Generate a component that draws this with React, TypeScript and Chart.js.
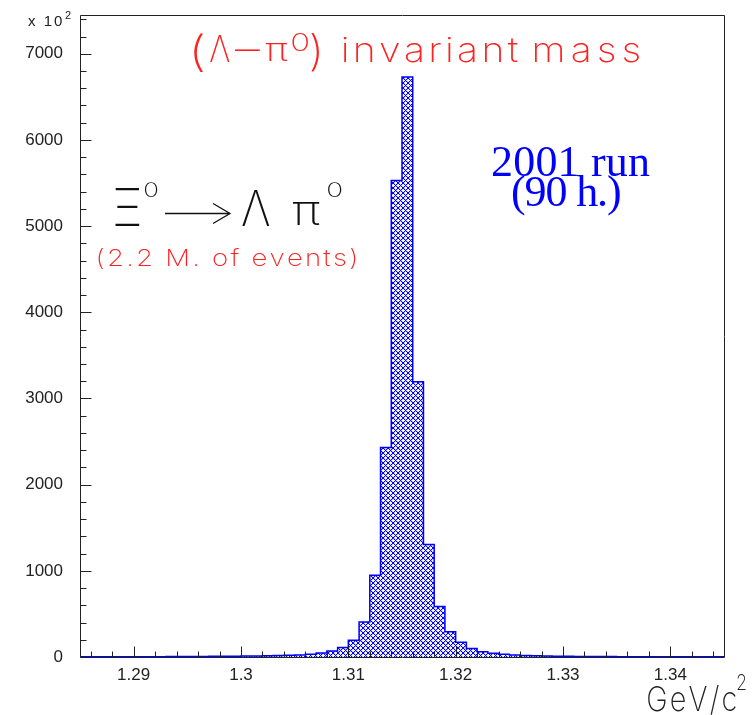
import React, { useEffect, useRef } from 'react';
import { Chart, registerables } from 'chart.js';

Chart.register(...registerables);

// ---- data ----
const binEdges = [
  1.285, 1.286, 1.287, 1.288, 1.289, 1.29, 1.291, 1.292, 1.293, 1.294,
  1.295, 1.296, 1.297, 1.298, 1.299, 1.3, 1.301, 1.302, 1.303, 1.304,
  1.305, 1.306, 1.307, 1.308, 1.309, 1.31, 1.311, 1.312, 1.313, 1.314,
  1.315, 1.316, 1.317, 1.318, 1.319, 1.32, 1.321, 1.322, 1.323, 1.324,
  1.325, 1.326, 1.327, 1.328, 1.329, 1.33, 1.331, 1.332, 1.333, 1.334,
  1.335, 1.336, 1.337, 1.338, 1.339, 1.34, 1.341, 1.342, 1.343, 1.344,
  1.345,
];
const counts = [
  2, 2, 2, 3, 3, 3, 4, 4, 5, 5,
  6, 7, 8, 9, 10, 11, 12, 14, 16, 19,
  24, 31, 45, 70, 110, 195, 405, 950, 2430, 5530,
  6730, 3195, 1305, 585, 292, 170, 100, 62, 43, 32,
  24, 18, 14, 11, 9, 8, 7, 6, 5, 5,
  4, 4, 3, 3, 3, 2, 2, 2, 2, 2,
];
const xTickValues = [1.29, 1.3, 1.31, 1.32, 1.33, 1.34];
const xTickLabels = ['1.29', '1.3', '1.31', '1.32', '1.33', '1.34'];
const yTickValues = [0, 1000, 2000, 3000, 4000, 5000, 6000, 7000];
const yTickLabels = ['0', '1000', '2000', '3000', '4000', '5000', '6000', '7000'];
const X_MIN = 1.285;
const X_MAX = 1.345;
const Y_MIN = 0;
const Y_MAX = 7450;

const THIN = "Inter, Lato, Roboto, 'DejaVu Sans', sans-serif";
const AXIS_FONT = "'Liberation Sans', Arial, sans-serif";
const SERIF = "'Liberation Serif', 'Times New Roman', serif";

// ---- text helpers ----
function drawFit(ctx: CanvasRenderingContext2D, text: string, left: number, right: number, baseline: number, font: string, color: string, sx = 1) {
  ctx.font = font;
  ctx.fillStyle = color;
  ctx.textAlign = 'left';
  ctx.textBaseline = 'alphabetic';
  const m = ctx.measureText(text);
  const ink = (m.actualBoundingBoxLeft + m.actualBoundingBoxRight) * sx;
  const chars = Array.from(text);
  const extra = chars.length > 1 ? (right - left - ink) / (chars.length - 1) : 0;
  let x = left + m.actualBoundingBoxLeft * sx;
  for (const c of chars) {
    ctx.save();
    ctx.translate(x, baseline);
    ctx.scale(sx, 1);
    ctx.fillText(c, 0, 0);
    ctx.restore();
    x += ctx.measureText(c).width * sx + extra;
  }
}

function drawBox(ctx: CanvasRenderingContext2D, text: string, x0: number, x1: number, y0: number, y1: number, font: string, color: string) {
  ctx.font = font;
  ctx.fillStyle = color;
  ctx.textAlign = 'left';
  ctx.textBaseline = 'alphabetic';
  const m = ctx.measureText(text);
  const inkW = m.actualBoundingBoxLeft + m.actualBoundingBoxRight;
  const inkH = m.actualBoundingBoxAscent + m.actualBoundingBoxDescent;
  const sx = (x1 - x0) / (inkW || 1);
  const sy = (y1 - y0) / (inkH || 1);
  ctx.save();
  ctx.translate(x0 + m.actualBoundingBoxLeft * sx, y0 + m.actualBoundingBoxAscent * sy);
  ctx.scale(sx, sy);
  ctx.fillText(text, 0, 0);
  ctx.restore();
}

function drawAt(ctx: CanvasRenderingContext2D, text: string, left: number, baseline: number, font: string, color: string) {
  ctx.font = font;
  ctx.fillStyle = color;
  ctx.textAlign = 'left';
  ctx.textBaseline = 'alphabetic';
  const m = ctx.measureText(text);
  ctx.fillText(text, left + m.actualBoundingBoxLeft, baseline);
}

const framePlugin = {
  id: 'frameAndText',
  afterDraw(chart: any) {
    const { ctx, chartArea: a, scales } = chart;
    const xs = scales.x;
    const ys = scales.y;
    ctx.save();
    // frame
    ctx.strokeStyle = '#222';
    ctx.lineWidth = 1;
    const L = Math.round(a.left) + 0.5;
    const T = Math.round(a.top) + 0.5;
    const R = Math.round(a.right) + 0.5;
    const B = Math.round(a.bottom) + 0.5;
    ctx.beginPath();
    ctx.moveTo(L, T); ctx.lineTo(R, T); ctx.lineTo(R, B); ctx.lineTo(L, B); ctx.closePath();
    ctx.stroke();
    // ticks
    ctx.beginPath();
    for (const v of xTickValues) {
      const px = Math.round(xs.getPixelForValue(v)) + 0.5;
      ctx.moveTo(px, B); ctx.lineTo(px, B - 11);
    }
    for (let k = 643; k <= 672; k++) {
      if (k % 5 === 0) continue;
      const px = Math.round(xs.getPixelForValue(k * 0.002)) + 0.5;
      ctx.moveTo(px, B); ctx.lineTo(px, B - 6);
    }
    for (const v of yTickValues) {
      const py = Math.round(ys.getPixelForValue(v)) + 0.5;
      ctx.moveTo(L, py); ctx.lineTo(L + 11, py);
    }
    for (let k = 1; k <= 37; k++) {
      if (k % 5 === 0) continue;
      const py = Math.round(ys.getPixelForValue(k * 200)) + 0.5;
      ctx.moveTo(L, py); ctx.lineTo(L + 6, py);
    }
    ctx.stroke();

    // exponent label
    drawFit(ctx, 'x 10', 28, 62, 26, `15px ${AXIS_FONT}`, '#222');
    drawAt(ctx, '2', 65, 19, `11px ${AXIS_FONT}`, '#222');

    // title (red)
    const red = '#ff2020';
    const tf = `200 37px ${THIN}`;
    drawBox(ctx, '(', 194, 203, 33, 72, tf, red);
    drawBox(ctx, 'Λ', 210, 230, 35, 62, tf, red);
    drawBox(ctx, '−', 235, 260, 48.5, 50.5, tf, red);
    drawBox(ctx, 'π', 265, 288, 43, 62, tf, red);
    drawBox(ctx, '0', 292, 308, 33, 52, tf, red);
    drawBox(ctx, ')', 311, 320, 33, 72, tf, red);
    drawFit(ctx, 'invariant', 343, 517, 62, `200 34px ${THIN}`, red, 1.15);
    drawFit(ctx, 'mass', 535, 640, 62, `200 34px ${THIN}`, red, 1.15);

    // decay (black)
    const bf = `200 50px ${THIN}`;
    const blk = '#111';
    drawBox(ctx, 'Ξ', 115, 140, 188, 226, bf, blk);
    drawBox(ctx, '0', 145, 158, 183, 198, `200 30px ${THIN}`, blk);
    // arrow
    ctx.strokeStyle = blk;
    ctx.lineWidth = 1.3;
    ctx.beginPath();
    ctx.moveTo(165, 213.5); ctx.lineTo(230, 213.5);
    ctx.moveTo(213, 203.5); ctx.lineTo(230, 213.5); ctx.lineTo(213, 223.5);
    ctx.stroke();
    drawBox(ctx, 'Λ', 242, 270, 190, 226, bf, blk);
    drawBox(ctx, 'π', 292, 320, 202, 226, bf, blk);
    drawBox(ctx, '0', 328, 342, 183, 198, `200 30px ${THIN}`, blk);

    drawFit(ctx, '(2.2 M. of events)', 98, 355, 266, `200 23px ${THIN}`, red, 1.2);

    // run info (blue serif)
    drawFit(ctx, '2001 run', 492, 650, 176, `44px ${SERIF}`, '#0000ff');
    drawFit(ctx, '(90 h.)', 512, 620, 206, `44px ${SERIF}`, '#0000ff');

    // axis title
    drawFit(ctx, 'GeV/c', 648, 733, 711, `200 34px ${THIN}`, '#222', 0.85);
    drawBox(ctx, '2', 737, 746, 674, 690, `200 20px ${THIN}`, '#222');
    ctx.restore();
  },
};

function makePattern(): CanvasPattern | string {
  const n = 5;
  const tile = document.createElement('canvas');
  tile.width = n;
  tile.height = n;
  const t = tile.getContext('2d');
  if (!t) return '#8080ff';
  for (let x = 0; x < n; x++) {
    for (let y = 0; y < n; y++) {
      const d1 = (x + y) % n;
      const d2 = (x - y + n) % n;
      const onLine = d1 === 0 || d2 === 0;
      const near = d1 === 1 || d2 === 1;
      t.fillStyle = onLine ? '#0000ff' : near ? '#c4c4ff' : '#ffffff';
      t.fillRect(x, y, 1, 1);
    }
  }
  const p = t.createPattern(tile, 'repeat');
  return p || '#8080ff';
}

export default function App() {
  const ref = useRef<HTMLCanvasElement | null>(null);
  useEffect(() => {
    if (!ref.current) return;
    const points = binEdges.map((e, i) => ({ x: e, y: counts[Math.min(i, counts.length - 1)] }));
    const chart = new Chart(ref.current, {
      type: 'line',
      data: {
        datasets: [
          {
            data: points,
            stepped: true,
            fill: 'origin',
            backgroundColor: makePattern() as any,
            borderColor: '#0000ff',
            borderWidth: 1.5,
            pointRadius: 0,
            tension: 0,
          },
        ],
      },
      options: {
        responsive: false,
        animation: false,
        devicePixelRatio: 1,
        layout: { padding: { top: 15, right: 32, left: 0, bottom: 0 } },
        plugins: { legend: { display: false }, tooltip: { enabled: false } },
        scales: {
          x: {
            type: 'linear',
            min: X_MIN,
            max: X_MAX,
            grid: { display: false, drawTicks: false },
            border: { display: false },
            afterBuildTicks: (s: any) => { s.ticks = xTickValues.map((v) => ({ value: v })); },
            afterFit: (s: any) => { s.height = 58; s.paddingLeft = 0; s.paddingRight = 0; },
            ticks: {
              autoSkip: false,
              maxRotation: 0,
              padding: 8,
              color: '#222',
              font: { family: AXIS_FONT, size: 17 },
              callback: (_v: any, i: number) => xTickLabels[i],
            },
          },
          y: {
            type: 'linear',
            min: Y_MIN,
            max: Y_MAX,
            grid: { display: false, drawTicks: false },
            border: { display: false },
            afterBuildTicks: (s: any) => { s.ticks = yTickValues.map((v) => ({ value: v })); },
            afterFit: (s: any) => { s.width = 80; s.paddingTop = 0; s.paddingBottom = 0; },
            ticks: {
              autoSkip: false,
              padding: 17,
              color: '#222',
              font: { family: AXIS_FONT, size: 17 },
              callback: (_v: any, i: number) => yTickLabels[i],
            },
          },
        },
      },
      plugins: [framePlugin],
    });
    return () => chart.destroy();
  }, []);
  return (
    <div style={{ position: 'absolute', left: 0, top: 0, width: 756, height: 715, background: '#fff' }}>
      <canvas ref={ref} width={756} height={715} style={{ display: 'block' }} />
    </div>
  );
}
